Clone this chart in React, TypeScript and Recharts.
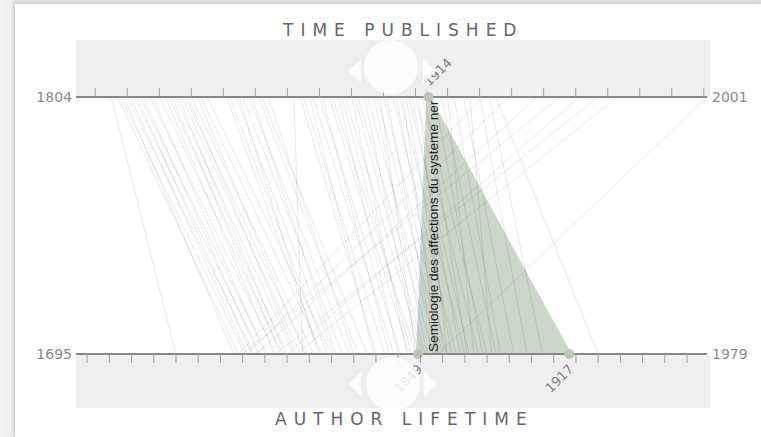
import React from 'react';
import { ComposedChart, XAxis, YAxis, Line, Area, Scatter } from 'recharts';

// one line per book: year published (top) -> author born (bottom)
const PUBLISHED = [
  1815,
  1817, 1818, 1819, 1820, 1821, 1822, 1823, 1824, 1825, 1827, 1828, 1830,
  1832, 1833, 1834, 1835, 1836, 1837, 1838, 1839, 1840, 1842, 1843, 1845,
  1851, 1852, 1854, 1855, 1856, 1858, 1859, 1861, 1862, 1864,
  1872,
  1874, 1875, 1877, 1878, 1880, 1881, 1883, 1884,
  1886, 1887, 1888, 1890, 1891, 1892, 1894, 1895,
  1897, 1898, 1899, 1900, 1901, 1903, 1904, 1905,
  1906, 1907, 1908, 1909, 1910, 1911, 1912, 1913, 1916, 1918,
  1920, 1922, 1925, 1927, 1930, 1933, 1935,
  1931, 1939, 1948, 1955, 1961, 1967, 1973, 2001,
];
const BORN = [
  1740,
  1768, 1771, 1766, 1775, 1772, 1778, 1774, 1781, 1777, 1785, 1780, 1788,
  1784, 1790, 1787, 1793, 1789, 1796, 1799, 1794, 1802, 1798, 1806, 1810,
  1805, 1808, 1811, 1804, 1815, 1818, 1812, 1822, 1826, 1820,
  1797,
  1830, 1834, 1829, 1838, 1841, 1836, 1845, 1848,
  1840, 1846, 1851, 1844, 1852, 1856, 1849, 1858,
  1853, 1860, 1848, 1862, 1857, 1866, 1861, 1870,
  1858, 1864, 1872, 1868, 1876, 1862, 1880, 1871, 1878, 1884,
  1874, 1886, 1892, 1882, 1898, 1905, 1930,
  1768, 1772, 1776, 1770, 1790, 1785, 1794, 1858,
];

// selected book
const SEL_TITLE = 'Semiologie des affections du systeme ner';
const SEL_PUBLISHED = 1914;
const SEL_BORN = 1849;
const SEL_DIED = 1917;

const PUB_DOMAIN = [1804, 2001];
const LIFE_DOMAIN = [1695, 1979];
const PUB_TICKS = [1804, 1810, 1820, 1830, 1840, 1850, 1860, 1870, 1880, 1890, 1900, 1910, 1920, 1930, 1940, 1950, 1960, 1970, 1980, 1990, 2000, 2001];
const LIFE_TICKS = [1695, 1700, 1710, 1720, 1730, 1740, 1750, 1760, 1770, 1780, 1790, 1800, 1810, 1820, 1830, 1840, 1850, 1860, 1870, 1880, 1890, 1900, 1910, 1920, 1930, 1940, 1950, 1960, 1970, 1979];

const TICK = 9;
const FONT = '"DejaVu Sans", Verdana, sans-serif';

// lifetime years expressed in the published-axis domain (both axes share the same width)
const toPub = (year: number) =>
  PUB_DOMAIN[0] + ((year - LIFE_DOMAIN[0]) * (PUB_DOMAIN[1] - PUB_DOMAIN[0])) / (LIFE_DOMAIN[1] - LIFE_DOMAIN[0]);

const bookLines = PUBLISHED.map((p, i) => [
  { x: p, y: 1 },
  { x: toPub(BORN[i]), y: 0 },
]);

const triangle = [
  { x: toPub(SEL_BORN), y: 0 },
  { x: SEL_PUBLISHED, y: 1 },
  { x: toPub(SEL_DIED), y: 0 },
];
const pubPoint = [{ x: SEL_PUBLISHED, y: 1, role: 'pub' }];
const lifePoints = [
  { x: SEL_BORN, y: 0, role: 'born' },
  { x: SEL_DIED, y: 0, role: 'died' },
];

const endLabel = (x: number, y: number, v: number, first: boolean) => (
  <text
    x={first ? x - 4 : x + 5}
    y={y}
    textAnchor={first ? 'end' : 'start'}
    dominantBaseline="central"
    fontSize={14}
    fontFamily={FONT}
    fill="#8a8a8a"
  >
    {v}
  </text>
);

const TopTick = (props: any) => {
  const { x, y, payload } = props;
  const v = payload.value;
  if (v === PUB_DOMAIN[0] || v === PUB_DOMAIN[1]) return endLabel(x, y + TICK, v, v === PUB_DOMAIN[0]);
  return <line x1={x} x2={x} y1={y} y2={y + TICK} stroke="#a0a0a0" strokeWidth={1} />;
};

const BottomTick = (props: any) => {
  const { x, y, payload } = props;
  const v = payload.value;
  if (v === LIFE_DOMAIN[0] || v === LIFE_DOMAIN[1]) return endLabel(x, y - TICK, v, v === LIFE_DOMAIN[0]);
  return <line x1={x} x2={x} y1={y - TICK} y2={y} stroke="#a0a0a0" strokeWidth={1} />;
};

const SelectedDot = (props: any) => {
  const { cx, cy, payload } = props;
  const role = payload.role;
  return (
    <g>
      <circle cx={cx} cy={cy} r={5} fill="#bcc6b8" />
      {role === 'pub' ? (
        <text transform={`translate(${cx + 1},${cy - 10}) rotate(-45)`} fontSize={13} fontFamily={FONT} fill="#808080">
          {payload.x}
        </text>
      ) : (
        <text
          transform={`translate(${cx + 5},${cy + 16}) rotate(-45)`}
          textAnchor="end"
          fontSize={13}
          fontFamily={FONT}
          fill="#808080"
        >
          {payload.x}
        </text>
      )}
      {role === 'born' && (
        <text
          transform={`translate(${cx + 19.5},${cy - 2}) rotate(-90)`}
          fontSize={13.6}
          fontFamily='"Liberation Sans", Arial, sans-serif'
          fill="#222"
        >
          {SEL_TITLE}
        </text>
      )}
    </g>
  );
};

export default function App() {
  return (
    <div
      style={{
        position: 'absolute',
        left: 0,
        top: 0,
        width: 761,
        height: 437,
        overflow: 'hidden',
        background: 'linear-gradient(90deg, #f6f6f6 0px, #eeeeee 11px, #e0e0e0 15px)',
      }}
    >
      <div style={{ position: 'absolute', left: 15, top: 4, width: 746, height: 433, background: '#fff', boxShadow: '-1px -1px 3px rgba(0,0,0,0.10)' }} />
      <svg style={{ position: 'absolute', left: 0, top: 0 }} width={761} height={437}>
        <rect x={76} y={40} width={634} height={57} fill="#efefef" />
        <rect x={76} y={354} width={634} height={54} fill="#efefef" />
      </svg>
      <div style={{ position: 'absolute', left: 0, top: 0 }}>
        <ComposedChart width={761} height={437} margin={{ top: 96, right: 54, bottom: 82, left: 76 }}>
          <XAxis
            xAxisId="pub"
            dataKey="x"
            type="number"
            orientation="top"
            domain={PUB_DOMAIN}
            ticks={PUB_TICKS}
            interval={0}
            height={1}
            tickSize={TICK}
            tickMargin={0}
            tickLine={false}
            tick={TopTick}
            axisLine={{ stroke: '#888', strokeWidth: 2 }}
          />
          <XAxis
            xAxisId="life"
            dataKey="x"
            type="number"
            orientation="bottom"
            domain={LIFE_DOMAIN}
            ticks={LIFE_TICKS}
            interval={0}
            height={1}
            tickSize={TICK}
            tickMargin={0}
            tickLine={false}
            tick={BottomTick}
            axisLine={{ stroke: '#888', strokeWidth: 2 }}
          />
          <YAxis yAxisId="v" dataKey="y" type="number" domain={[0, 1]} hide />
          <Area
            xAxisId="pub"
            yAxisId="v"
            data={triangle}
            dataKey="y"
            type="linear"
            fill="#ccd6ca"
            fillOpacity={1}
            stroke="#ccd6ca"
            strokeWidth={4}
            isAnimationActive={false}
          />
          {bookLines.map((pts, i) => (
            <Line
              key={i}
              xAxisId="pub"
              yAxisId="v"
              data={pts}
              dataKey="y"
              type="linear"
              stroke="#000"
              strokeOpacity={0.09}
              strokeWidth={1}
              dot={false}
              activeDot={false}
              isAnimationActive={false}
            />
          ))}
          <Scatter
            xAxisId="pub"
            yAxisId="v"
            data={pubPoint}
            dataKey="y"
            shape={SelectedDot}
            isAnimationActive={false}
          />
          <Scatter
            xAxisId="life"
            yAxisId="v"
            data={lifePoints}
            dataKey="y"
            shape={SelectedDot}
            isAnimationActive={false}
          />
        </ComposedChart>
      </div>
      <svg style={{ position: 'absolute', left: 0, top: 0, pointerEvents: 'none' }} width={761} height={437}>
        <text x={283} y={36} fontSize={17} fontFamily={FONT} fill="#666" letterSpacing={7}>
          TIME PUBLISHED
        </text>
        <text x={275} y={425} fontSize={17} fontFamily={FONT} fill="#666" letterSpacing={7}>
          AUTHOR LIFETIME
        </text>
        <g fill="#fff" fillOpacity={0.82}>
          <circle cx={391} cy={67} r={27} />
          <polygon points="348,71 361,59 361,83" />
          <polygon points="423,58 436,71 423,84" />
          <circle cx={393} cy={384} r={27} />
          <polygon points="348,384 361,372 361,396" />
          <polygon points="424,371 437,384 424,397" />
        </g>
      </svg>
    </div>
  );
}
